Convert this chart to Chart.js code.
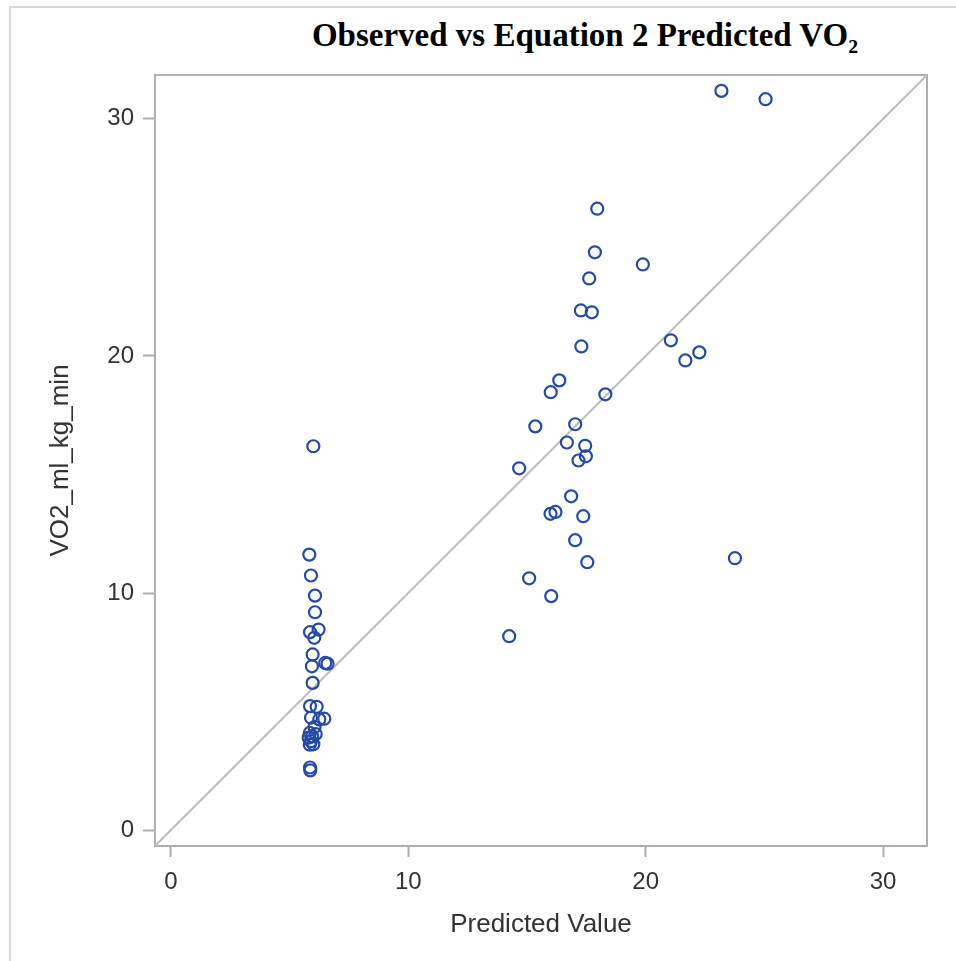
<!DOCTYPE html>
<html><head><meta charset="utf-8">
<script src="https://cdn.jsdelivr.net/npm/chart.js@4.4.1/dist/chart.umd.min.js"></script>
<style>
html,body{margin:0;padding:0;background:#fff;width:956px;height:961px;overflow:hidden;}
#wrap{position:relative;width:956px;height:961px;}
#frame{position:absolute;left:9px;top:6px;width:960px;height:970px;border-left:2px solid #d8d8d8;border-top:2px solid #d8d8d8;}
#title{position:absolute;top:17px;left:585px;transform:translateX(-50%);white-space:nowrap;font:bold 33px "Liberation Serif","Times New Roman",serif;color:#000;}
canvas{position:absolute;left:0;top:0;}
</style></head><body>
<div id="wrap"><div id="frame"></div><div id="title">Observed vs Equation 2 Predicted VO₂</div><canvas id="c" width="956" height="961"></canvas></div>
<script>
const predicted = [
  23.19,25.05,17.96,17.86,19.88,17.62,17.27,17.73,17.29,21.06,21.67,22.26,16.36,16.00,18.30,15.35,17.03,16.68,17.45,17.48,17.17,14.67,16.86,15.99,16.20,17.37,17.03,17.54,23.76,15.09,16.02,14.25,
  6.00,5.83,5.90,6.07,6.07,5.86,6.22,6.04,5.97,5.94,6.50,6.60,5.97,5.86,6.14,5.90,6.46,6.25,6.05,5.85,5.80,5.90,6.00,5.85,6.10,5.95,5.86,5.87
];
const observed = [
  31.18,30.83,26.21,24.37,23.86,23.27,21.92,21.84,20.40,20.66,19.81,20.15,18.97,18.47,18.38,17.03,17.12,16.35,16.21,15.77,15.59,15.26,14.08,13.34,13.42,13.24,12.23,11.30,11.47,10.62,9.87,8.18,
  16.19,11.62,10.74,9.89,9.19,8.35,8.46,8.11,7.41,6.91,7.05,7.02,6.21,5.23,5.20,4.74,4.70,4.67,4.35,4.10,3.90,3.75,3.62,3.60,4.05,3.95,2.64,2.52
];
const tickValues = [0, 10, 20, 30];
const axisMin = -0.67, axisMax = 31.85;
const refLineX = [axisMin, axisMax];
const refLineY = [axisMin, axisMax];

const points = predicted.map((x, i) => ({x, y: observed[i]}));
const refLine = refLineX.map((x, i) => ({x, y: refLineY[i]}));

const frameColor = '#aab0b4';
const textColor = '#333333';
const setTicks = s => { s.ticks = tickValues.map(v => ({value: v})); };

new Chart(document.getElementById('c'), {
  type: 'scatter',
  data: {
    datasets: [
      {data: points, pointStyle: 'circle', pointRadius: 6, pointHoverRadius: 6,
       borderColor: '#2449a6', backgroundColor: 'rgba(0,0,0,0)', pointBorderWidth: 2.2, borderWidth: 2.2, order: 0},
      {type: 'line', data: refLine, showLine: true, borderColor: '#bdbdbd', borderWidth: 2,
       pointRadius: 0, fill: false, order: 1}
    ]
  },
  options: {
    responsive: false, animation: false,
    layout: {padding: {left: 0, top: 75, right: 29, bottom: 0}},
    plugins: {legend: {display: false}, tooltip: {enabled: false}, title: {display: false}},
    scales: {
      x: {type: 'linear', position: 'bottom', min: axisMin, max: axisMax,
        afterBuildTicks: setTicks,
        afterFit: s => { s.height = 115; },
        grid: {drawOnChartArea: false, drawTicks: true, tickLength: 11, tickWidth: 2, color: frameColor},
        border: {display: true, color: frameColor, width: 2},
        ticks: {padding: 11, color: textColor, font: {family: 'Liberation Sans, Arial, sans-serif', size: 24}},
        title: {display: true, text: 'Predicted Value', color: textColor, padding: {top: 0, bottom: 21},
          font: {family: 'Liberation Sans, Arial, sans-serif', size: 26}}
      },
      y: {type: 'linear', position: 'left', min: axisMin, max: axisMax,
        afterBuildTicks: setTicks,
        afterFit: s => { s.width = 155; },
        grid: {drawOnChartArea: false, drawTicks: true, tickLength: 12, tickWidth: 2, color: frameColor},
        border: {display: true, color: frameColor, width: 2},
        ticks: {padding: 9, color: textColor, font: {family: 'Liberation Sans, Arial, sans-serif', size: 24}},
        title: {display: true, text: 'VO2_ml_kg_min', color: textColor, padding: {top: 45, bottom: 0},
          font: {family: 'Liberation Sans, Arial, sans-serif', size: 26}}
      },
      xTop: {type: 'linear', position: 'top', min: axisMin, max: axisMax,
        afterFit: s => { s.height = 0; },
        ticks: {display: false}, grid: {display: false},
        border: {display: true, color: frameColor, width: 2}
      },
      yRight: {type: 'linear', position: 'right', min: axisMin, max: axisMax,
        afterFit: s => { s.width = 0; },
        ticks: {display: false}, grid: {display: false},
        border: {display: true, color: frameColor, width: 2}
      }
    }
  }
});
</script>
</body></html>
